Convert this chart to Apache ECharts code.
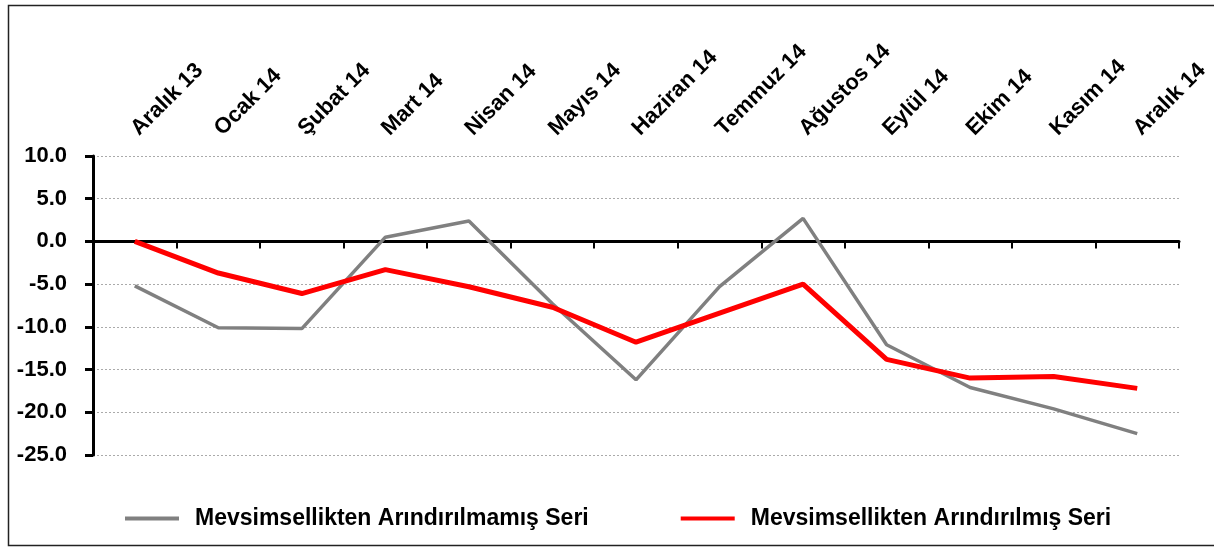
<!DOCTYPE html>
<html>
  <head>
    <meta charset="UTF-8">
    <title>mevsimsel seri</title>
    <script src="https://cdn.jsdelivr.net/npm/echarts@6/dist/echarts.min.js"></script>
    <style>
      html, body { margin: 0; padding: 0; background: #fff; }
      #main { width: 1214px; height: 547px; }
    </style>
  </head>
  <body>
    <div id="main"></div>
    <script>
var months = ['Aralık 13', 'Ocak 14', 'Şubat 14', 'Mart 14', 'Nisan 14', 'Mayıs 14', 'Haziran 14',
              'Temmuz 14', 'Ağustos 14', 'Eylül 14', 'Ekim 14', 'Kasım 14', 'Aralık 14'];
var hamSeri = [-5.2, -10.1, -10.2, 0.5, 2.4, -7.3, -16.2, -5.3, 2.7, -12.1, -17.1, -19.6, -22.5];
var arindirilmis = [0.0, -3.7, -6.1, -3.3, -5.3, -7.7, -11.8, -8.4, -5.0, -13.8, -16.0, -15.8, -17.2];
var yTicks = { min: -25, max: 10, interval: 5 };

var fontFam = '"Liberation Sans", Arial, sans-serif';
var chartDom = document.getElementById('main');
var myChart = echarts.init(chartDom);

var option = {
    animation: false,
    graphic: [
        {
            type: 'rect',
            shape: { x: 8.5, y: 5.5, width: 1220, height: 540 },
            style: { fill: 'none', stroke: '#222', lineWidth: 1.5 },
            silent: true
        }
    ],
    grid: { left: 93, right: 35, top: 156, bottom: 92 },
    legend: {
        left: 120,
        top: 502,
        itemWidth: 54,
        itemHeight: 4,
        itemGap: 92,
        icon: 'rect',
        textStyle: { fontFamily: fontFam, fontWeight: 'bold', fontSize: 23, color: '#000', padding: [0, 0, 0, 11] },
        data: ['Mevsimsellikten Arındırılmamış Seri', 'Mevsimsellikten Arındırılmış Seri']
    },
    xAxis: [
        {
            type: 'category',
            data: months,
            boundaryGap: true,
            position: 'bottom',
            axisLine: { onZero: true, lineStyle: { color: '#000', width: 3 } },
            axisTick: { show: true, inside: false, length: 7, alignWithLabel: false, lineStyle: { color: '#000', width: 2 } },
            axisLabel: { show: false },
            splitLine: { show: false }
        },
        {
            type: 'category',
            data: months,
            boundaryGap: true,
            position: 'top',
            axisLine: { show: false, onZero: false },
            axisTick: { show: false },
            axisLabel: {
                rotate: -45,
                margin: 24,
                fontFamily: fontFam,
                fontWeight: 'bold',
                fontSize: 22,
                color: '#000',
                interval: 0
            }
        }
    ],
    yAxis: {
        type: 'value',
        min: yTicks.min,
        max: yTicks.max,
        interval: yTicks.interval,
        axisLine: { show: true, lineStyle: { color: '#000', width: 3 } },
        axisTick: { show: true, length: 8, lineStyle: { color: '#000', width: 3 } },
        axisLabel: {
            margin: 26,
            fontFamily: fontFam,
            fontWeight: 'bold',
            fontSize: 22,
            color: '#000',
            formatter: function (v) { return v.toFixed(1); }
        },
        splitLine: { show: true, lineStyle: { color: '#aaa', type: [2, 2], width: 1 } }
    },
    series: [
        {
            name: 'Mevsimsellikten Arındırılmamış Seri',
            type: 'line',
            data: hamSeri,
            showSymbol: false,
            symbol: 'none',
            itemStyle: { color: '#808080' },
            lineStyle: { color: '#808080', width: 3.5 },
            z: 3
        },
        {
            name: 'Mevsimsellikten Arındırılmış Seri',
            type: 'line',
            data: arindirilmis,
            showSymbol: false,
            symbol: 'none',
            itemStyle: { color: '#ff0000' },
            lineStyle: { color: '#ff0000', width: 5 },
            z: 4
        }
    ]
};

myChart.setOption(option);
    </script>
  </body>
</html>
